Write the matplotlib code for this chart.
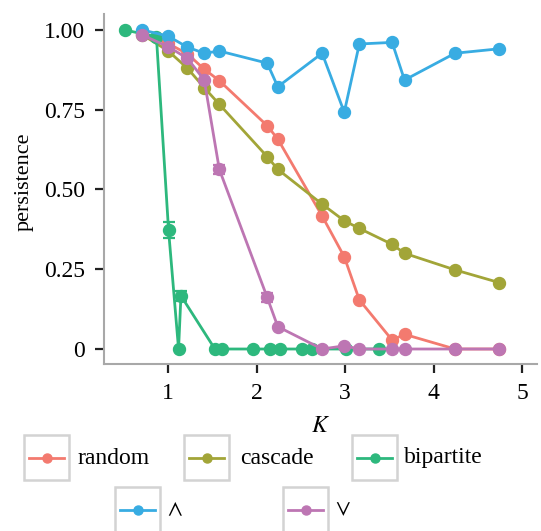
import matplotlib
matplotlib.use('Agg')
import matplotlib.pyplot as plt
from matplotlib.patches import Rectangle
from matplotlib.lines import Line2D

plt.rcParams['font.family'] = ['Liberation Serif', 'DejaVu Serif']
plt.rcParams['mathtext.fontset'] = 'stix'

# 数据
k_random = [0.71, 1.0, 1.22, 1.41, 1.58, 2.12, 2.24, 2.74, 2.99, 3.16, 3.53, 3.67, 4.24, 4.74]
p_random = [0.99, 0.958, 0.925, 0.877, 0.841, 0.700, 0.658, 0.417, 0.289, 0.154, 0.028, 0.046, 0.0, 0.0]

k_cascade = [0.71, 1.0, 1.22, 1.41, 1.58, 2.12, 2.24, 2.74, 2.99, 3.16, 3.53, 3.67, 4.24, 4.74]
p_cascade = [0.985, 0.935, 0.880, 0.819, 0.767, 0.603, 0.563, 0.454, 0.402, 0.378, 0.328, 0.300, 0.248, 0.208]

k_bipartite = [0.51, 0.87, 1.007, 1.12, 1.147, 1.53, 1.61, 1.955, 2.15, 2.26, 2.51, 2.625, 3.01, 3.38]
p_bipartite = [1.0, 0.979, 0.373, 0.0, 0.167, 0.0, 0.0, 0.0, 0.0, 0.0, 0.0, 0.0, 0.0, 0.0]
e_bipartite = [0, 0, 0.026, 0, 0.016, 0, 0, 0, 0, 0, 0, 0, 0, 0]

k_and = [0.71, 1.0, 1.22, 1.41, 1.58, 2.12, 2.24, 2.74, 2.99, 3.16, 3.53, 3.67, 4.24, 4.74]
p_and = [1.0, 0.981, 0.946, 0.927, 0.934, 0.896, 0.822, 0.927, 0.742, 0.956, 0.961, 0.843, 0.927, 0.941]

k_or = [0.71, 1.0, 1.22, 1.41, 1.58, 2.12, 2.24, 2.74, 2.99, 3.16, 3.53, 3.67, 4.24, 4.74]
p_or = [0.984, 0.948, 0.911, 0.843, 0.563, 0.162, 0.070, 0.0, 0.010, 0.0, 0.0, 0.0, 0.0, 0.0]
e_or = [0, 0, 0, 0, 0.014, 0.014, 0, 0, 0, 0, 0, 0, 0, 0]

labels = ['random', 'cascade', 'bipartite', r'$\wedge$', r'$\vee$']
colors = ['#F37A6F', '#A2A538', '#2DB87D', '#38ACE2', '#BD76B3']

series = [
    (k_random, p_random, None),
    (k_cascade, p_cascade, None),
    (k_bipartite, p_bipartite, e_bipartite),
    (k_and, p_and, None),
    (k_or, p_or, e_or),
]

W, H = 541, 531
fig = plt.figure(figsize=(W / 100, H / 100), dpi=100)
ax = fig.add_axes([103.5 / W, 1 - 364 / H, (537 - 103.5) / W, (364 - 14) / H])

for (k, p, err), c in zip(series, colors):
    ax.plot(k, p, color=c, lw=2.0, marker='o', ms=8.6, mec=c, mfc=c, zorder=3)
    if err is not None:
        ax.errorbar(k, p, yerr=err, fmt='none', ecolor=c, elinewidth=1.6,
                    capsize=4, capthick=1.6, zorder=3)

ax.set_xlim(0.273, 5.165)
ax.set_ylim(-0.047, 1.05)
ax.set_xticks([1, 2, 3, 4, 5])
ax.set_yticks([0, 0.25, 0.5, 0.75, 1.0])
ax.set_yticklabels(['0', '0.25', '0.50', '0.75', '1.00'])

for s in ['top', 'right']:
    ax.spines[s].set_visible(False)
for s in ['left', 'bottom']:
    ax.spines[s].set_color('#A8A8A8')
    ax.spines[s].set_linewidth(1.5)
ax.tick_params(axis='both', length=6.5, width=1.6, color='#222222', labelsize=17)
ax.tick_params(axis='y', pad=7)
ax.tick_params(axis='x', pad=7)

ax.set_ylabel('persistence', fontsize=16)
ax.yaxis.set_label_coords(-0.16, 0.521)
ax.set_xlabel('$K$', fontsize=17)
ax.xaxis.set_label_coords(0.5, -0.148)

# 图例（两行，带灰色边框的键）
lg = fig.add_axes([0, 0, 1, 1])
lg.set_xlim(0, W)
lg.set_ylim(H, 0)
lg.axis('off')
legend_pos = [(24, 435, 77), (184, 435, 240), (352, 435, 404), (115, 487, 167), (283, 487, 335)]
for (x0, y0, xt), lab, c in zip(legend_pos, labels, colors):
    lg.add_patch(Rectangle((x0, y0), 45, 45, fill=False, ec='#D3D3D3', lw=1.8))
    lg.add_line(Line2D([x0 + 5, x0 + 40], [y0 + 23, y0 + 23], color=c, lw=2.0))
    lg.add_line(Line2D([x0 + 22.5], [y0 + 23], color=c, marker='o', ms=6.5, lw=0))
    lg.text(xt, y0 + 23, lab, fontsize=17, va='center', ha='left')

fig.savefig('out.png', dpi=100)
